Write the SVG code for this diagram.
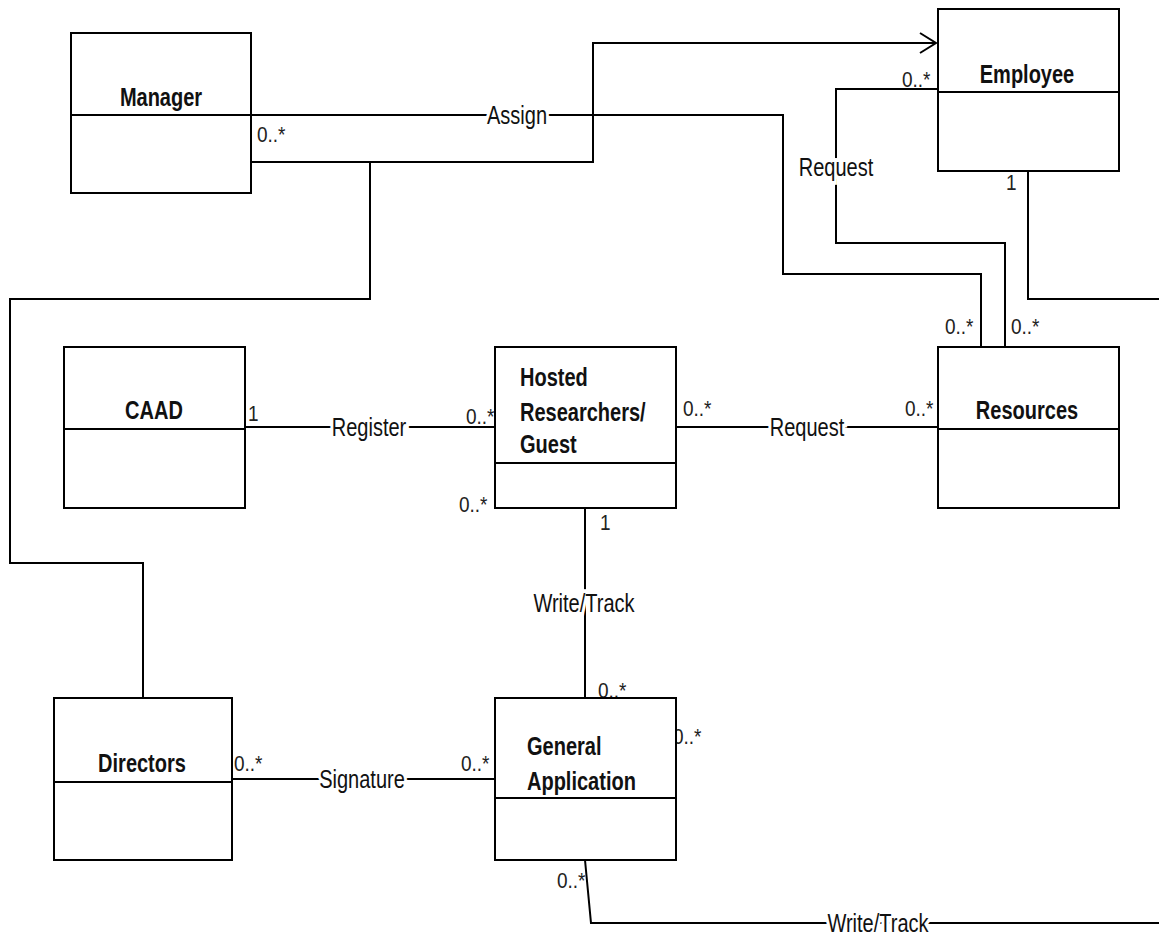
<svg xmlns="http://www.w3.org/2000/svg" width="1159" height="939" viewBox="0 0 1159 939">
<style>
.box{fill:#fff;stroke:#000;stroke-width:2}
.div{stroke:#000;stroke-width:2}
.ln{fill:none;stroke:#000;stroke-width:2}
.name{font-family:"Liberation Sans",Arial,sans-serif;font-weight:bold;font-size:20px;fill:#111}
.lbl{font-family:"Liberation Sans",Arial,sans-serif;font-size:20px;fill:#111;stroke:#fff;stroke-width:6px;paint-order:stroke;text-anchor:middle}
.m{font-family:"Liberation Sans",Arial,sans-serif;font-size:19px;fill:#222}
.c{text-anchor:middle}
</style>
<defs>
<marker id="open" viewBox="0 0 20 24" refX="18" refY="12" markerWidth="20" markerHeight="24" markerUnits="userSpaceOnUse" orient="auto">
<path d="M2,2 L18,12 L2,22" fill="none" stroke="#000" stroke-width="2"/>
</marker>
</defs>
<rect width="1159" height="939" fill="#fff"/>
<g id="connectors">
<path class="ln" d="M251,115 H783 V274 H981 V347"/>
<path class="ln" d="M251,162 H593 V43 H936" marker-end="url(#open)"/>
<path class="ln" d="M370,162 V299 H10 V563 H143 V698"/>
<path class="ln" d="M938,89 H836 V243 H1005 V347"/>
<path class="ln" d="M1028,171 V299 H1159"/>
<path class="ln" d="M245,427 H495"/>
<path class="ln" d="M676,427 H938"/>
<path class="ln" d="M585,508 V698"/>
<path class="ln" d="M232,779 H495"/>
<path class="ln" d="M585,860 L591,923 H1159"/>
<text class="lbl" transform="translate(517,124) scale(1,1.28)">Assign</text>
<text class="lbl" transform="translate(836,176) scale(1,1.28)">Request</text>
<text class="lbl" transform="translate(369,436) scale(1,1.28)">Register</text>
<text class="lbl" transform="translate(807,436) scale(1,1.28)">Request</text>
<text class="lbl" transform="translate(584,612) scale(1,1.28)">Write/Track</text>
<text class="lbl" transform="translate(362,788) scale(1,1.28)">Signature</text>
<text class="lbl" transform="translate(878,932) scale(1,1.28)">Write/Track</text>
<text class="m" transform="translate(257,142) scale(1,1.15)">0..*</text>
<text class="m" transform="translate(902,87) scale(1,1.15)">0..*</text>
<text class="m" transform="translate(1006,190) scale(1,1.15)">1</text>
<text class="m" transform="translate(945,334) scale(1,1.15)">0..*</text>
<text class="m" transform="translate(1011,334) scale(1,1.15)">0..*</text>
<text class="m" transform="translate(683,416) scale(1,1.15)">0..*</text>
<text class="m" transform="translate(905,416) scale(1,1.15)">0..*</text>
<text class="m" transform="translate(248,421) scale(1,1.15)">1</text>
<text class="m" transform="translate(466,424) scale(1,1.15)">0..*</text>
<text class="m" transform="translate(459,512) scale(1,1.15)">0..*</text>
<text class="m" transform="translate(600,530) scale(1,1.15)">1</text>
<text class="m" transform="translate(598,698) scale(1,1.15)">0..*</text>
<text class="m" transform="translate(673,744) scale(1,1.15)">0..*</text>
<text class="m" transform="translate(234,771) scale(1,1.15)">0..*</text>
<text class="m" transform="translate(461,771) scale(1,1.15)">0..*</text>
<text class="m" transform="translate(557,888) scale(1,1.15)">0..*</text>
</g>
<g id="manager">
<rect class="box" x="71" y="33" width="180" height="160"/>
<line class="div" x1="71" y1="115" x2="251" y2="115"/>
<text class="name c" transform="translate(161,106) scale(1,1.28)">Manager</text>
</g>
<g id="employee">
<rect class="box" x="938" y="9" width="181" height="162"/>
<line class="div" x1="938" y1="92" x2="1119" y2="92"/>
<text class="name c" transform="translate(1027,83) scale(1,1.28)">Employee</text>
</g>
<g id="caad">
<rect class="box" x="64" y="347" width="181" height="161"/>
<line class="div" x1="64" y1="429" x2="245" y2="429"/>
<text class="name c" transform="translate(154,419) scale(1,1.28)">CAAD</text>
</g>
<g id="hosted">
<rect class="box" x="495" y="347" width="181" height="161"/>
<line class="div" x1="495" y1="463" x2="676" y2="463"/>
<text class="name" transform="translate(520,386) scale(1,1.28)">Hosted</text>
<text class="name" transform="translate(520,421) scale(1,1.28)">Researchers/</text>
<text class="name" transform="translate(520,453) scale(1,1.28)">Guest</text>
</g>
<g id="resources">
<rect class="box" x="938" y="347" width="181" height="161"/>
<line class="div" x1="938" y1="429" x2="1119" y2="429"/>
<text class="name c" transform="translate(1027,419) scale(1,1.28)">Resources</text>
</g>
<g id="directors">
<rect class="box" x="54" y="698" width="178" height="162"/>
<line class="div" x1="54" y1="782" x2="232" y2="782"/>
<text class="name c" transform="translate(142,772) scale(1,1.28)">Directors</text>
</g>
<g id="general-application">
<rect class="box" x="495" y="698" width="181" height="162"/>
<line class="div" x1="495" y1="798" x2="676" y2="798"/>
<text class="name" transform="translate(527,755) scale(1,1.28)">General</text>
<text class="name" transform="translate(527,790) scale(1,1.28)">Application</text>
</g>
</svg>
